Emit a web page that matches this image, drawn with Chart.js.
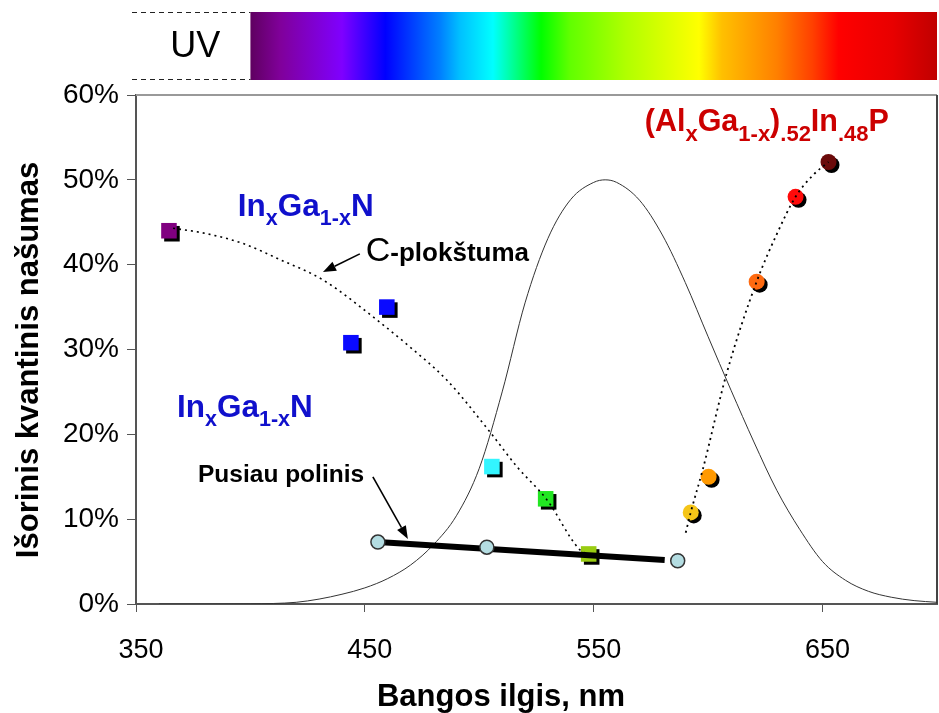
<!DOCTYPE html>
<html>
<head>
<meta charset="utf-8">
<script src="https://cdn.jsdelivr.net/npm/chart.js@4.4.1/dist/chart.umd.min.js"></script>
<style>
  html, body { margin: 0; padding: 0; background: #ffffff; }
  #wrap { width: 939px; height: 713px; position: relative; }
</style>
</head>
<body>
<div id="wrap"><canvas id="chart" width="939" height="713"></canvas></div>
<script>
// Wavelength axis ticks (the 700 end tick carries no label or mark) and efficiency ticks
const xTicks = [350, 450, 550, 650, 700];
const xTickLabels = ['350', '450', '550', '650', ''];
const yTicks = [0, 10, 20, 30, 40, 50, 60];

// InGaN c-plane LEDs (nm, %)
const cPlaneNm = [364.4, 443.9, 459.6, 505.5, 529.0, 547.8];
const cPlaneEqe = [44.0, 30.8, 35.0, 16.2, 12.4, 5.9];
const cPlaneColors = ['#800080', '#0a0aff', '#0a0aff', '#33f5ff', '#22e622', '#99cc11'];

// Guide curve through the c-plane results
const cPlaneFitNm = [366.2, 380.0, 396.7, 412.9, 431.7, 455.2, 469.7, 485.8, 504.6, 516.4, 529.5, 543.9, 548.3];
const cPlaneFitEqe = [44.3, 43.7, 42.5, 40.6, 38.2, 33.5, 30.3, 26.4, 20.3, 16.2, 12.3, 6.4, 5.8];

// Semipolar InGaN LEDs and their trend
const semiNm = [455.7, 503.3, 586.7];
const semiEqe = [7.3, 6.7, 5.1];
const semiTrendNm = [455.7, 581.0];
const semiTrendEqe = [7.3, 5.2];

// (AlGa)InP LEDs
const algaNm = [592.4, 600.2, 621.2, 638.2, 652.6];
const algaEqe = [10.8, 15.0, 38.0, 48.0, 52.1];
const algaColors = ['#f5c518', '#ff9900', '#ff6a10', '#ff0a0a', '#6b0a0a'];

// Guide curve through the (AlGa)InP results
const algaFitNm = [590.2, 592.4, 597.6, 608.1, 621.2, 630.0, 638.2, 646.0, 652.6];
const algaFitEqe = [8.4, 10.8, 15.8, 27.2, 38.0, 43.6, 48.0, 50.6, 52.1];

// Eye sensitivity curve, scaled so the peak sits at 50 %
const eyeNm = [360, 380, 400, 410, 420, 430, 440, 450, 460, 470, 480, 490, 500, 510, 520, 530, 540, 550, 555, 560, 570, 580, 590, 600, 610, 620, 630, 640, 650, 660, 670, 680, 690, 700];
const eyeVal = [0, 0, 0.02, 0.06, 0.2, 0.58, 1.15, 1.9, 3.0, 4.6, 7.0, 10.4, 16.0, 25.0, 35.5, 43.1, 47.7, 49.7, 50.0, 49.7, 47.6, 43.5, 37.9, 31.5, 25.2, 19.1, 13.4, 8.8, 5.0, 2.8, 1.5, 0.8, 0.4, 0.2];

// Visible spectrum colours by wavelength for the band above the plot
const spectrumNm = [400, 413, 440, 459, 483, 491.5, 506, 527, 539.5, 564, 596, 606, 630, 645.6, 657, 680.6, 700];
const spectrumColors = ['#5f0060', '#80009a', '#7f00ff', '#0000ff', '#0080ff', '#00c0ff', '#00ffff', '#00ff00', '#60ff00', '#b0ff00', '#ffff00', '#ffc000', '#ff8000', '#ff4000', '#ff0000', '#e80000', '#c00000'];

const zip = (xs, ys) => xs.map((x, i) => ({ x: x, y: ys[i] }));

const FONT = "'Liberation Sans', Arial, sans-serif";

// Text labels in data coordinates: each is a list of [text, subscript?]
const labels = [
  { nm: 394.5, eqe: 45.75, color: '#1010cc', size: 31.5, sub: 21.5,
    parts: [['In', 0], ['x', 1], ['Ga', 0], ['1-x', 1], ['N', 0]] },
  { nm: 367.9, eqe: 22.05, color: '#1010cc', size: 31.5, sub: 21.5,
    parts: [['In', 0], ['x', 1], ['Ga', 0], ['1-x', 1], ['N', 0]] },
  { nm: 572.3, eqe: 55.7, color: '#cc0000', size: 30.5, sub: 22,
    parts: [['(Al', 0], ['x', 1], ['Ga', 0], ['1-x', 1], [')', 0], ['.52', 1], ['In', 0], ['.48', 1], ['P', 0]] }
];

const arrows = [
  { from: [447.8, 41.27], to: [431.7, 39.15] },
  { from: [453.5, 14.98], to: [468.8, 7.67] }
];

function drawRich(ctx, x, y, lab) {
  let cx = x;
  ctx.fillStyle = lab.color;
  ctx.textBaseline = 'alphabetic';
  ctx.textAlign = 'left';
  for (const [t, isSub] of lab.parts) {
    ctx.font = 'bold ' + (isSub ? lab.sub : lab.size) + 'px ' + FONT;
    ctx.fillText(t, cx, isSub ? y + lab.size * 0.3 : y);
    cx += ctx.measureText(t).width;
  }
}

function drawArrow(ctx, x1, y1, x2, y2) {
  const ang = Math.atan2(y2 - y1, x2 - x1);
  const head = 13, half = 5;
  const bx = x2 - head * Math.cos(ang), by = y2 - head * Math.sin(ang);
  ctx.strokeStyle = '#000';
  ctx.lineWidth = 1.6;
  ctx.beginPath();
  ctx.moveTo(x1, y1);
  ctx.lineTo(bx, by);
  ctx.stroke();
  ctx.fillStyle = '#000';
  ctx.beginPath();
  ctx.moveTo(x2, y2);
  ctx.lineTo(bx + half * Math.sin(ang), by - half * Math.cos(ang));
  ctx.lineTo(bx - half * Math.sin(ang), by + half * Math.cos(ang));
  ctx.closePath();
  ctx.fill();
}

// Hard black drop shadow under the marker datasets
const shadowPlugin = {
  id: 'markerShadow',
  beforeDatasetDraw(chart, args) {
    const ds = chart.data.datasets[args.index];
    if (!ds.shadow) return;
    const ctx = chart.ctx;
    ctx.save();
    ctx.shadowColor = '#000000';
    ctx.shadowOffsetX = 3;
    ctx.shadowOffsetY = 3;
    ctx.shadowBlur = 0;
  },
  afterDatasetDraw(chart, args) {
    const ds = chart.data.datasets[args.index];
    if (!ds.shadow) return;
    chart.ctx.restore();
  }
};

// Spectrum band, UV box, frame, annotations and axis titles
const decorPlugin = {
  id: 'decor',
  beforeDatasetsDraw(chart) {
    const ctx = chart.ctx;
    const xs = chart.scales.x;
    const a = chart.chartArea;
    const top = 12, bottom = 80;
    const x0 = xs.getPixelForValue(spectrumNm[0]);
    const x1 = xs.getPixelForValue(spectrumNm[spectrumNm.length - 1]);
    const g = ctx.createLinearGradient(x0, 0, x1, 0);
    spectrumNm.forEach((nm, i) => g.addColorStop((nm - spectrumNm[0]) / (spectrumNm[spectrumNm.length - 1] - spectrumNm[0]), spectrumColors[i]));
    ctx.save();
    ctx.fillStyle = g;
    ctx.fillRect(x0, top, x1 - x0, bottom - top);
    // UV box edges
    ctx.strokeStyle = '#222';
    ctx.lineWidth = 1.2;
    ctx.setLineDash([5, 4]);
    ctx.beginPath();
    ctx.moveTo(a.left - 4, top + 0.5); ctx.lineTo(x0, top + 0.5);
    ctx.moveTo(a.left - 4, bottom - 0.5); ctx.lineTo(x0, bottom - 0.5);
    ctx.stroke();
    ctx.setLineDash([]);
    ctx.fillStyle = '#000';
    ctx.font = '36px ' + FONT;
    ctx.textAlign = 'center';
    ctx.textBaseline = 'middle';
    ctx.fillText('UV', (a.left + x0) / 2 + 2, (top + bottom) / 2 + 1);
    // Top and right frame
    ctx.strokeStyle = '#999';
    ctx.lineWidth = 2;
    ctx.beginPath();
    ctx.moveTo(a.left, a.top); ctx.lineTo(a.right, a.top);
    ctx.stroke();
    ctx.strokeStyle = '#444';
    ctx.beginPath();
    ctx.moveTo(a.right, a.top); ctx.lineTo(a.right, a.bottom);
    ctx.stroke();
    ctx.restore();
  },
  afterDatasetsDraw(chart) {
    const ctx = chart.ctx;
    const xs = chart.scales.x, ys = chart.scales.y;
    ctx.save();
    labels.forEach(l => drawRich(ctx, xs.getPixelForValue(l.nm), ys.getPixelForValue(l.eqe), l));
    arrows.forEach(ar => drawArrow(ctx,
      xs.getPixelForValue(ar.from[0]), ys.getPixelForValue(ar.from[1]),
      xs.getPixelForValue(ar.to[0]), ys.getPixelForValue(ar.to[1])));
    // "C-plokštuma"
    const cx = xs.getPixelForValue(450.4), cy = ys.getPixelForValue(40.45);
    ctx.fillStyle = '#000';
    ctx.textAlign = 'left';
    ctx.textBaseline = 'alphabetic';
    ctx.font = '34px ' + FONT;
    ctx.fillText('C', cx, cy);
    let w = ctx.measureText('C').width;
    ctx.font = 'bold 26px ' + FONT;
    ctx.fillText('-plokštuma', cx + w, cy);
    // "Pusiau polinis"
    ctx.font = 'bold 24.5px ' + FONT;
    ctx.fillText('Pusiau polinis', xs.getPixelForValue(377.1), ys.getPixelForValue(14.4));
    // Axis titles
    ctx.font = 'bold 31px ' + FONT;
    ctx.textAlign = 'center';
    ctx.fillText('Bangos ilgis, nm', 501, 706);
    ctx.translate(38, 360);
    ctx.rotate(-Math.PI / 2);
    ctx.fillText('Išorinis kvantinis našumas', 0, 0);
    ctx.restore();
  }
};

new Chart(document.getElementById('chart'), {
  type: 'scatter',
  data: {
    datasets: [
      {
        label: 'c-plane fit', data: zip(cPlaneFitNm, cPlaneFitEqe), showLine: true,
        borderColor: '#000', borderWidth: 1.6, borderDash: [2, 4], pointRadius: 0,
        cubicInterpolationMode: 'monotone', order: 0
      },
      {
        label: 'AlGaInP fit', data: zip(algaFitNm, algaFitEqe), showLine: true,
        borderColor: '#000', borderWidth: 1.8, borderDash: [2, 4], pointRadius: 0,
        cubicInterpolationMode: 'monotone', order: 0
      },
      {
        label: 'semipolar', data: zip(semiNm, semiEqe), showLine: false,
        pointStyle: 'circle', pointRadius: 7, backgroundColor: '#b4dde2',
        borderColor: '#333', borderWidth: 1.5, order: 1
      },
      {
        label: 'semipolar trend', data: zip(semiTrendNm, semiTrendEqe), showLine: true,
        borderColor: '#000', borderWidth: 6, pointRadius: 0, order: 2
      },
      {
        label: 'c-plane', data: zip(cPlaneNm, cPlaneEqe), showLine: false,
        pointStyle: 'rect', pointRadius: 11, backgroundColor: cPlaneColors,
        borderWidth: 0, shadow: true, order: 3
      },
      {
        label: 'AlGaInP', data: zip(algaNm, algaEqe), showLine: false,
        pointStyle: 'circle', pointRadius: 8, backgroundColor: algaColors,
        borderWidth: 0, shadow: true, order: 3
      },
      {
        label: 'eye sensitivity', data: zip(eyeNm, eyeVal), showLine: true,
        borderColor: '#333', borderWidth: 1, pointRadius: 0,
        cubicInterpolationMode: 'monotone', order: 4
      }
    ]
  },
  options: {
    responsive: false,
    animation: false,
    layout: { autoPadding: false, padding: { top: 95, right: 2, left: 0, bottom: 0 } },
    plugins: { legend: { display: false }, tooltip: { enabled: false } },
    scales: {
      x: {
        type: 'linear', min: 350, max: 700,
        afterBuildTicks: s => { s.ticks = xTicks.map(v => ({ value: v })); },
        afterFit: s => { s.height = 109; s.paddingLeft = 0; s.paddingRight = 0; },
        grid: {
          display: true, drawOnChartArea: false, drawTicks: true, tickLength: 8, lineWidth: 1,
          color: c => (c.tick && c.tick.value === 700) ? 'rgba(0,0,0,0)' : '#555'
        },
        border: { display: true, color: '#555', width: 2 },
        ticks: {
          color: '#000', font: { family: FONT, size: 27 }, padding: 22, maxRotation: 0,
          labelOffset: 5, callback: (v, i) => xTickLabels[i]
        }
      },
      y: {
        min: 0, max: 60,
        afterBuildTicks: s => { s.ticks = yTicks.map(v => ({ value: v })); },
        afterFit: s => { s.width = 136; },
        grid: { display: true, drawOnChartArea: false, drawTicks: true, tickLength: 9, color: '#555', lineWidth: 1 },
        border: { display: true, color: '#555', width: 2 },
        ticks: { color: '#000', font: { family: FONT, size: 28 }, padding: 8, callback: v => v + '%' }
      }
    }
  },
  plugins: [shadowPlugin, decorPlugin]
});
</script>
</body>
</html>
